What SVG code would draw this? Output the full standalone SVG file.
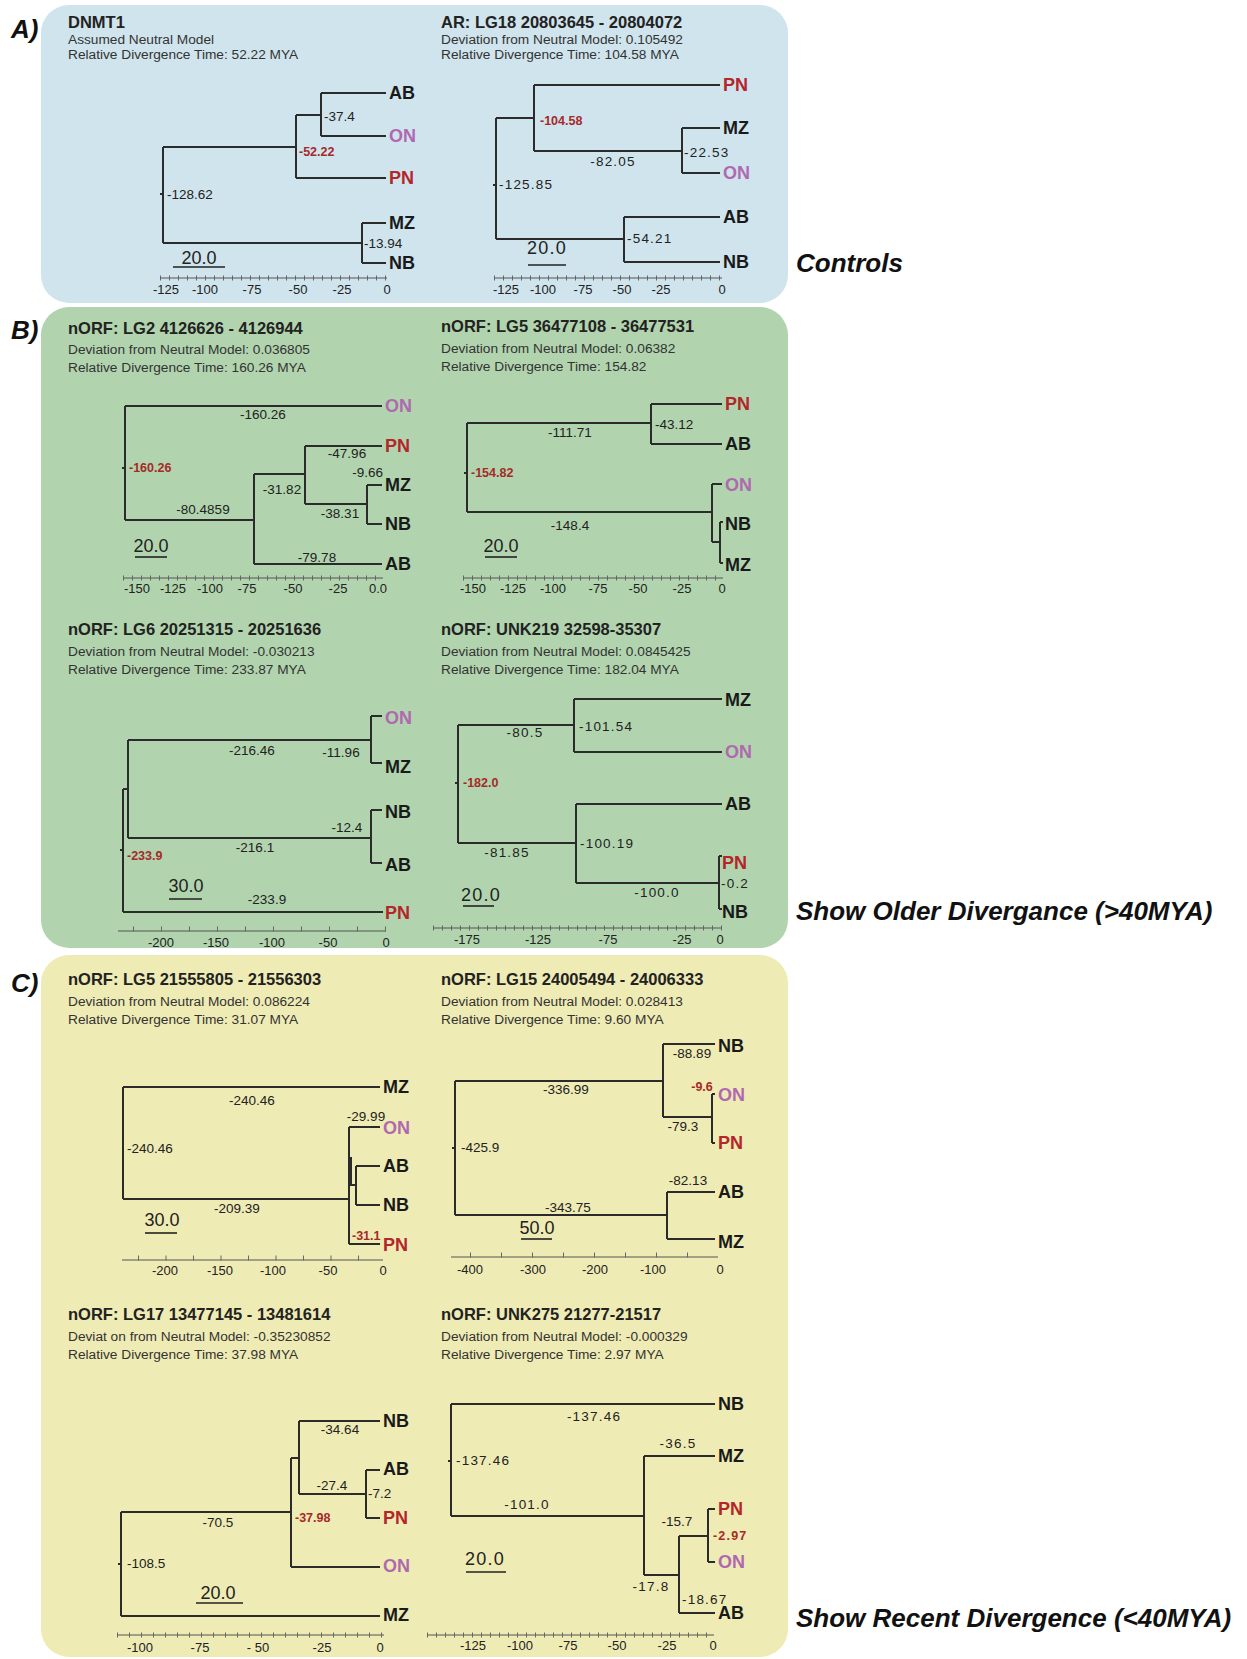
<svg xmlns="http://www.w3.org/2000/svg" width="1247" height="1659" viewBox="0 0 1247 1659">
<style>
text{font-family:"Liberation Sans",Arial,sans-serif;fill:#222}
.pl{font-size:26px;font-weight:bold;font-style:italic;fill:#111}
.t{font-size:16.5px;font-weight:bold}
.s{font-size:13.7px;fill:#333}
.n{font-size:13.5px}
.ls{letter-spacing:1.2px}
.c{text-anchor:middle}
.e{text-anchor:end}
.r{font-size:12.5px;font-weight:bold;fill:#a52a2a}
.lf{font-size:18px;font-weight:bold;fill:#1a1a1a}
.pn{fill:#b3262a}
.on{fill:#b069b0}
.sc{font-size:18px;text-anchor:middle}
.al{font-size:13px;text-anchor:middle}
.br{fill:none;stroke:#2b2b2b;stroke-width:2}
.ul{stroke:#222;stroke-width:1.6}
.ax{stroke:#555;stroke-width:1}
.tk{stroke:#666;stroke-width:5;stroke-dasharray:1 8}
</style>
<rect width="1247" height="1659" fill="#fff"/>
<g id="panel-a"><rect x="41" y="5" width="747" height="298" rx="28" fill="#cfe4ec"/></g>
<g id="panel-b"><rect x="41" y="307" width="747" height="641" rx="28" fill="#b1d4ae"/></g>
<g id="panel-c"><rect x="41" y="955" width="747" height="702" rx="28" fill="#efebb4"/></g>
<g id="panel-labels">
<text class="pl" x="11" y="38">A)</text>
<text class="pl" x="11" y="339">B)</text>
<text class="pl" x="11" y="992">C)</text>
<text class="pl" x="796" y="272">Controls</text>
<text class="pl" x="796" y="920">Show Older Divergance (&gt;40MYA)</text>
<text class="pl" x="796" y="1627">Show Recent Divergence (&lt;40MYA)</text>
</g>
<g id="connectors">
<path id="br1" class="br" d="M163,147V243M163,147H296M296,115V178M296,115H321M321,93V136M321,93H386M321,136H386M296,178H386M163,243H362M362,223V263M362,223H386M362,263H386M160,194H163"/>
<path id="br2" class="br" d="M496,118V239M496,118H534M534,85V151M534,85H720M534,151H682M682,128V173M682,128H720M682,173H720M496,239H624M624,217V262M624,217H720M624,262H720M493,185H496"/>
<path id="br3" class="br" d="M125,406V520M125,406H382M125,520H254M254,474V564M254,564H382M254,474H305M305,446V504M305,446H382M305,504H367M367,485V524M367,485H382M367,524H382M122,468H125"/>
<path id="br4" class="br" d="M467,423V512M467,423H651M651,404V444M651,404H722M651,444H722M467,512H712M712,484V542M712,484H722M712,542H720M720,522V563M720,522H723M720,563H723M464,473H467"/>
<path id="br5" class="br" d="M123,789V912M123,789H128M128,740V838M128,740H371M371,716V763M371,716H382M371,763H382M128,838H371M371,810V863M371,810H382M371,863H382M123,912H383M120,850H123"/>
<path id="br6" class="br" d="M458,725V843M458,725H574M574,699V752M574,699H722M574,752H722M458,843H576M576,804V883M576,804H722M576,883H719M719,856V909M719,856H722M719,909H722M455,783H458"/>
<path id="br7" class="br" d="M123,1087V1199M123,1087H380M123,1199H349M349,1127V1244M349,1127H380M349,1244H380M351,1157V1186M349,1185H356M356,1166V1205M356,1166H380M356,1205H380"/>
<path id="br8" class="br" d="M455,1081V1215M455,1081H663M663,1044V1117M663,1044H715M663,1117H712M712,1094V1143M712,1094H715M712,1143H715M455,1215H667M667,1192V1239M667,1192H715M667,1239H715M452,1148H455"/>
<path id="br9" class="br" d="M121,1512V1616M121,1512H291M121,1616H380M291,1458V1567M291,1567H380M291,1458H299M299,1421V1494M299,1421H380M299,1494H366M366,1470V1518M366,1470H380M366,1518H380M118,1564H121"/>
<path id="br10" class="br" d="M451,1404V1516M451,1404H715M451,1516H644M644,1456V1575M644,1456H715M644,1575H679M679,1536V1613M679,1536H708M708,1509V1562M708,1509H715M708,1562H715M679,1613H715M448,1461H451"/>
</g>
<g id="tree-dnmt1">
<text class="t" x="68" y="28">DNMT1</text>
<text class="s" x="68" y="44">Assumed Neutral Model</text>
<text class="s" x="68" y="59">Relative Divergence Time: 52.22 MYA</text>
<text class="lf" x="389" y="99">AB</text>
<text class="lf on" x="389" y="142">ON</text>
<text class="lf pn" x="389" y="184">PN</text>
<text class="lf" x="389" y="229">MZ</text>
<text class="lf" x="389" y="269">NB</text>
<text class="n" x="167" y="199">-128.62</text>
<text class="r" x="299" y="156">-52.22</text>
<text class="n" x="324" y="121">-37.4</text>
<text class="n" x="364" y="248">-13.94</text>
<text class="sc" x="199" y="264">20.0</text><line class="ul" x1="173" y1="267" x2="225" y2="267"/>
<line class="ax" x1="160" y1="278" x2="387" y2="278"/><line class="tk" x1="160" y1="278" x2="387" y2="278"/>
<text class="al" x="166" y="294">-125</text><text class="al" x="205" y="294">-100</text><text class="al" x="252" y="294">-75</text><text class="al" x="298" y="294">-50</text><text class="al" x="342" y="294">-25</text><text class="al" x="387" y="294">0</text>
</g>
<g id="tree-lg18">
<text class="t" x="441" y="28">AR: LG18 20803645 - 20804072</text>
<text class="s" x="441" y="44">Deviation from Neutral Model: 0.105492</text>
<text class="s" x="441" y="59">Relative Divergence Time: 104.58 MYA</text>
<text class="lf pn" x="723" y="91">PN</text>
<text class="lf" x="723" y="134">MZ</text>
<text class="lf on" x="723" y="179">ON</text>
<text class="lf" x="723" y="223">AB</text>
<text class="lf" x="723" y="268">NB</text>
<text class="r" x="540" y="125">-104.58</text>
<text class="n ls c" x="613" y="166">-82.05</text>
<text class="n ls" x="684" y="157">-22.53</text>
<text class="n ls" x="499" y="189">-125.85</text>
<text class="n ls" x="627" y="243">-54.21</text>
<text class="sc ls" x="547" y="254">20.0</text><line class="ul" x1="528" y1="265" x2="566" y2="265"/>
<line class="ax" x1="494" y1="278" x2="722" y2="278"/><line class="tk" x1="494" y1="278" x2="722" y2="278"/>
<text class="al" x="506" y="294">-125</text><text class="al" x="543" y="294">-100</text><text class="al" x="583" y="294">-75</text><text class="al" x="622" y="294">-50</text><text class="al" x="661" y="294">-25</text><text class="al" x="722" y="294">0</text>
</g>
<g id="tree-lg2">
<text class="t" x="68" y="334">nORF: LG2 4126626 - 4126944</text>
<text class="s" x="68" y="354">Deviation from Neutral Model: 0.036805</text>
<text class="s" x="68" y="372">Relative Divergence Time: 160.26 MYA</text>
<text class="lf on" x="385" y="412">ON</text>
<text class="lf pn" x="385" y="452">PN</text>
<text class="lf" x="385" y="491">MZ</text>
<text class="lf" x="385" y="530">NB</text>
<text class="lf" x="385" y="570">AB</text>
<text class="n c" x="263" y="419">-160.26</text>
<text class="r" x="129" y="472">-160.26</text>
<text class="n c" x="347" y="458">-47.96</text>
<text class="n e" x="383" y="477">-9.66</text>
<text class="n c" x="282" y="494">-31.82</text>
<text class="n c" x="340" y="518">-38.31</text>
<text class="n c" x="203" y="514">-80.4859</text>
<text class="n c" x="317" y="562">-79.78</text>
<text class="sc" x="151" y="552">20.0</text><line class="ul" x1="135" y1="557" x2="167" y2="557"/>
<line class="ax" x1="123" y1="578" x2="383" y2="578"/><line class="tk" x1="123" y1="578" x2="383" y2="578"/>
<text class="al" x="137" y="593">-150</text><text class="al" x="173" y="593">-125</text><text class="al" x="210" y="593">-100</text><text class="al" x="247" y="593">-75</text><text class="al" x="293" y="593">-50</text><text class="al" x="338" y="593">-25</text><text class="al" x="378" y="593">0.0</text>
</g>
<g id="tree-lg5a">
<text class="t" x="441" y="332">nORF: LG5 36477108 - 36477531</text>
<text class="s" x="441" y="353">Deviation from Neutral Model: 0.06382</text>
<text class="s" x="441" y="371">Relative Divergence Time: 154.82</text>
<text class="lf pn" x="725" y="410">PN</text>
<text class="lf" x="725" y="450">AB</text>
<text class="lf on" x="725" y="491">ON</text>
<text class="lf" x="725" y="530">NB</text>
<text class="lf" x="725" y="571">MZ</text>
<text class="n c" x="570" y="437">-111.71</text>
<text class="n" x="655" y="429">-43.12</text>
<text class="r" x="471" y="477">-154.82</text>
<text class="n c" x="570" y="530">-148.4</text>
<text class="sc" x="501" y="552">20.0</text><line class="ul" x1="485" y1="557" x2="517" y2="557"/>
<line class="ax" x1="463" y1="578" x2="723" y2="578"/><line class="tk" x1="463" y1="578" x2="723" y2="578"/>
<text class="al" x="473" y="593">-150</text><text class="al" x="513" y="593">-125</text><text class="al" x="553" y="593">-100</text><text class="al" x="598" y="593">-75</text><text class="al" x="638" y="593">-50</text><text class="al" x="682" y="593">-25</text><text class="al" x="722" y="593">0</text>
</g>
<g id="tree-lg6">
<text class="t" x="68" y="635">nORF: LG6 20251315 - 20251636</text>
<text class="s" x="68" y="656">Deviation from Neutral Model: -0.030213</text>
<text class="s" x="68" y="674">Relative Divergence Time: 233.87 MYA</text>
<text class="lf on" x="385" y="724">ON</text>
<text class="lf" x="385" y="773">MZ</text>
<text class="lf" x="385" y="818">NB</text>
<text class="lf" x="385" y="871">AB</text>
<text class="lf pn" x="385" y="919">PN</text>
<text class="n c" x="252" y="755">-216.46</text>
<text class="n c" x="341" y="757">-11.96</text>
<text class="n c" x="347" y="832">-12.4</text>
<text class="n c" x="255" y="852">-216.1</text>
<text class="r" x="127" y="860">-233.9</text>
<text class="sc" x="186" y="892">30.0</text><line class="ul" x1="169" y1="899" x2="202" y2="899"/>
<text class="n c" x="267" y="904">-233.9</text>
<line class="ax" x1="118" y1="931" x2="386" y2="931"/><line class="tk" x1="133" y1="929" x2="386" y2="929" style="stroke-dasharray:1 27"/>
<text class="al" x="161" y="947">-200</text><text class="al" x="216" y="947">-150</text><text class="al" x="272" y="947">-100</text><text class="al" x="328" y="947">-50</text><text class="al" x="386" y="947">0</text>
</g>
<g id="tree-unk219">
<text class="t" x="441" y="635">nORF: UNK219 32598-35307</text>
<text class="s" x="441" y="656">Deviation from Neutral Model: 0.0845425</text>
<text class="s" x="441" y="674">Relative Divergence Time: 182.04 MYA</text>
<text class="lf" x="725" y="706">MZ</text>
<text class="lf on" x="725" y="758">ON</text>
<text class="lf" x="725" y="810">AB</text>
<text class="lf pn" x="722" y="869">PN</text>
<text class="lf" x="722" y="918">NB</text>
<text class="n ls c" x="525" y="737">-80.5</text>
<text class="n ls" x="579" y="731">-101.54</text>
<text class="r" x="463" y="787">-182.0</text>
<text class="n ls c" x="507" y="857">-81.85</text>
<text class="n ls" x="580" y="848">-100.19</text>
<text class="n ls c" x="657" y="897">-100.0</text>
<text class="n ls" x="721" y="888">-0.2</text>
<text class="sc ls" x="481" y="901">20.0</text><line class="ul" x1="463" y1="906" x2="494" y2="906"/>
<line class="ax" x1="433" y1="928" x2="722" y2="928"/><line class="tk" x1="433" y1="928" x2="722" y2="928"/>
<text class="al" x="467" y="944">-175</text><text class="al" x="538" y="944">-125</text><text class="al" x="608" y="944">-75</text><text class="al" x="682" y="944">-25</text><text class="al" x="720" y="944">0</text>
</g>
<g id="tree-lg5b">
<text class="t" x="68" y="985">nORF: LG5 21555805 - 21556303</text>
<text class="s" x="68" y="1006">Deviation from Neutral Model: 0.086224</text>
<text class="s" x="68" y="1024">Relative Divergence Time: 31.07 MYA</text>
<text class="lf" x="383" y="1093">MZ</text>
<text class="lf on" x="383" y="1134">ON</text>
<text class="lf" x="383" y="1172">AB</text>
<text class="lf" x="383" y="1211">NB</text>
<text class="lf pn" x="383" y="1251">PN</text>
<text class="n c" x="252" y="1105">-240.46</text>
<text class="n c" x="366" y="1121">-29.99</text>
<text class="n" x="127" y="1153">-240.46</text>
<text class="n c" x="237" y="1213">-209.39</text>
<text class="sc" x="162" y="1226">30.0</text><line class="ul" x1="145" y1="1233" x2="177" y2="1233"/>
<text class="r" x="352" y="1240">-31.1</text>
<line class="ax" x1="122" y1="1260" x2="383" y2="1260"/><line class="tk" x1="138" y1="1258" x2="383" y2="1258" style="stroke-dasharray:1 26.5"/>
<text class="al" x="165" y="1275">-200</text><text class="al" x="220" y="1275">-150</text><text class="al" x="273" y="1275">-100</text><text class="al" x="328" y="1275">-50</text><text class="al" x="383" y="1275">0</text>
</g>
<g id="tree-lg15">
<text class="t" x="441" y="985">nORF: LG15 24005494 - 24006333</text>
<text class="s" x="441" y="1006">Deviation from Neutral Model: 0.028413</text>
<text class="s" x="441" y="1024">Relative Divergence Time: 9.60 MYA</text>
<text class="lf" x="718" y="1052">NB</text>
<text class="lf on" x="718" y="1101">ON</text>
<text class="lf pn" x="718" y="1149">PN</text>
<text class="lf" x="718" y="1198">AB</text>
<text class="lf" x="718" y="1248">MZ</text>
<text class="n c" x="692" y="1058">-88.89</text>
<text class="n c" x="566" y="1094">-336.99</text>
<text class="r c" x="702" y="1091">-9.6</text>
<text class="n c" x="683" y="1131">-79.3</text>
<text class="n" x="461" y="1152">-425.9</text>
<text class="n c" x="688" y="1185">-82.13</text>
<text class="n c" x="568" y="1212">-343.75</text>
<text class="sc" x="537" y="1234">50.0</text><line class="ul" x1="521" y1="1239" x2="552" y2="1239"/>
<line class="ax" x1="451" y1="1257" x2="718" y2="1257"/><line class="tk" x1="470" y1="1255" x2="718" y2="1255" style="stroke-dasharray:1 30"/>
<text class="al" x="470" y="1274">-400</text><text class="al" x="533" y="1274">-300</text><text class="al" x="595" y="1274">-200</text><text class="al" x="653" y="1274">-100</text><text class="al" x="720" y="1274">0</text>
</g>
<g id="tree-lg17">
<text class="t" x="68" y="1320">nORF: LG17 13477145 - 13481614</text>
<text class="s" x="68" y="1341">Deviat on from Neutral Model: -0.35230852</text>
<text class="s" x="68" y="1359">Relative Divergence Time: 37.98 MYA</text>
<text class="lf" x="383" y="1427">NB</text>
<text class="lf" x="383" y="1475">AB</text>
<text class="lf pn" x="383" y="1524">PN</text>
<text class="lf on" x="383" y="1572">ON</text>
<text class="lf" x="383" y="1621">MZ</text>
<text class="n c" x="340" y="1434">-34.64</text>
<text class="n c" x="332" y="1490">-27.4</text>
<text class="n" x="368" y="1498">-7.2</text>
<text class="r" x="295" y="1522">-37.98</text>
<text class="n c" x="218" y="1527">-70.5</text>
<text class="n" x="127" y="1568">-108.5</text>
<text class="sc" x="218" y="1599">20.0</text><line class="ul" x1="196" y1="1603" x2="243" y2="1603"/>
<line class="ax" x1="117" y1="1635" x2="384" y2="1635"/><line class="tk" x1="117" y1="1635" x2="384" y2="1635" style="stroke-dasharray:1 11"/>
<text class="al" x="140" y="1652">-100</text><text class="al" x="200" y="1652">-75</text><text class="al" x="258" y="1652">- 50</text><text class="al" x="322" y="1652">-25</text><text class="al" x="380" y="1652">0</text>
</g>
<g id="tree-unk275">
<text class="t" x="441" y="1320">nORF: UNK275 21277-21517</text>
<text class="s" x="441" y="1341">Deviation from Neutral Model: -0.000329</text>
<text class="s" x="441" y="1359">Relative Divergence Time: 2.97 MYA</text>
<text class="lf" x="718" y="1410">NB</text>
<text class="lf" x="718" y="1462">MZ</text>
<text class="lf pn" x="718" y="1515">PN</text>
<text class="lf on" x="718" y="1568">ON</text>
<text class="lf" x="718" y="1619">AB</text>
<text class="n ls c" x="594" y="1421">-137.46</text>
<text class="n ls c" x="678" y="1448">-36.5</text>
<text class="n ls" x="456" y="1465">-137.46</text>
<text class="n ls c" x="527" y="1509">-101.0</text>
<text class="n c" x="677" y="1526">-15.7</text>
<text class="r ls" x="713" y="1540">-2.97</text>
<text class="sc ls" x="485" y="1565">20.0</text><line class="ul" x1="466" y1="1572" x2="506" y2="1572"/>
<text class="n ls c" x="651" y="1591">-17.8</text>
<text class="n ls" x="682" y="1604">-18.67</text>
<line class="ax" x1="427" y1="1635" x2="714" y2="1635"/><line class="tk" x1="427" y1="1635" x2="714" y2="1635"/>
<text class="al" x="473" y="1650">-125</text><text class="al" x="520" y="1650">-100</text><text class="al" x="568" y="1650">-75</text><text class="al" x="617" y="1650">-50</text><text class="al" x="667" y="1650">-25</text><text class="al" x="713" y="1650">0</text>
</g>
</svg>
